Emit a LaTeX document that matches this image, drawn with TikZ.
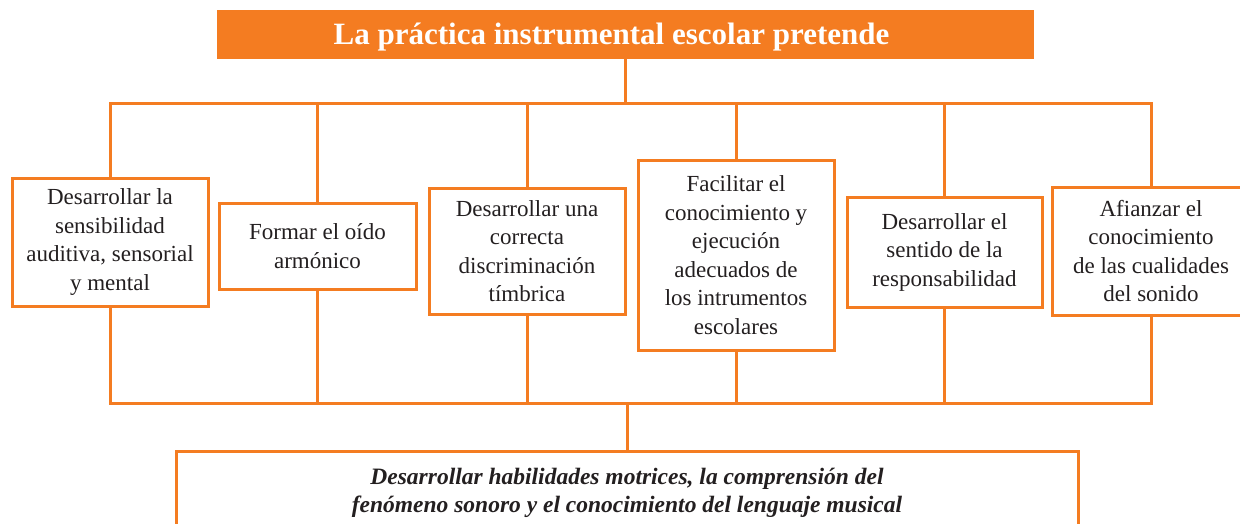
\documentclass[tikz,border=0pt]{standalone}
\usepackage{fontspec}
\setmainfont{Liberation Serif}
\definecolor{orng}{RGB}{244,124,33}
\definecolor{txt}{RGB}{35,31,32}
\begin{document}
\begin{tikzpicture}[x=1pt,y=-1pt,
  link/.style={draw=orng, line width=3pt, line join=miter},
  box/.style={draw=orng, line width=3pt, fill=white, text=txt, align=center,
    font=\fontsize{23}{28.5}\selectfont, inner sep=0pt},
  titlebox/.style={fill=orng, inner sep=0pt, text=white, text height=27pt, text depth=7pt,
    font=\fontsize{31}{33}\selectfont\bfseries},
  bottombox/.style={draw=orng, line width=3pt, fill=white, text=txt, align=center,
    font=\fontsize{23.5}{28}\selectfont\bfseries\itshape, inner sep=0pt}
]
\useasboundingbox (0,0) rectangle (1240,523);
\clip (0,0) rectangle (1240,523);
\fill[white] (0,0) rectangle (1240,523);

\node[titlebox, minimum width=817pt, minimum height=49pt] (top) at (625.5,34.5)
  {La práctica instrumental escolar pretende\hspace*{28pt}};

\node[box, minimum width=196pt, minimum height=128pt] (b1) at (110,242)
  {Desarrollar la\\sensibilidad\\auditiva, sensorial\\y mental};
\node[box, minimum width=197pt, minimum height=86pt] (b2) at (317.5,246)
  {Formar el oído\\armónico};
\node[box, minimum width=196pt, minimum height=126pt] (b3) at (527,251)
  {Desarrollar una\\correcta\\discriminación\\tímbrica};
\node[box, minimum width=196pt, minimum height=190pt] (b4) at (736,255)
  {Facilitar el\\conocimiento y\\ejecución\\adecuados de\\los intrumentos\\escolares};
\node[box, minimum width=195pt, minimum height=110pt] (b5) at (944.5,252)
  {Desarrollar el\\sentido de la\\responsabilidad};
\node[box, minimum width=198pt, minimum height=128pt] (b6) at (1151,251)
  {Afianzar el\\conocimiento\\de las cualidades\\del sonido};

\node[bottombox, minimum width=902pt, minimum height=82pt, anchor=north] (bot) at (627,450)
  {Desarrollar habilidades motrices, la comprensión del\\fenómeno sonoro y el conocimiento del lenguaje musical};

\coordinate (bt) at (626,103);
\coordinate (bb) at (627,403);

\draw[link] (top.south) -- (top.south |- bt);
\draw[link] (b1.north) |- (bt) -| (b6.north);
\draw[link] (b1.south) |- (bb) -| (b6.south);
\foreach \i in {2,3,4,5} {
  \draw[link] (b\i.north) -- (b\i.north |- bt);
  \draw[link] (b\i.south) -- (b\i.south |- bb);
}
\draw[link] (bb) -- (bot.north);
\end{tikzpicture}
\end{document}
